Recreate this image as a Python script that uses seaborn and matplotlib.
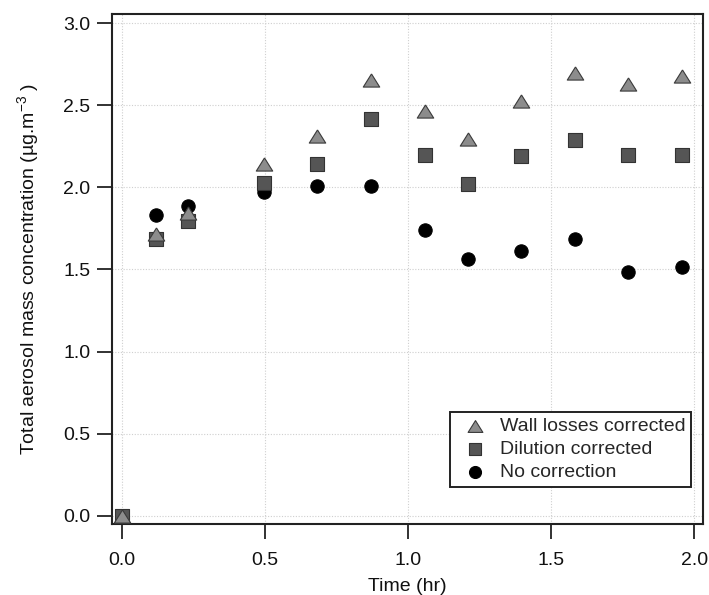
import matplotlib
matplotlib.use("Agg")
import matplotlib.pyplot as plt
from matplotlib.markers import MarkerStyle
import numpy as np
import pandas as pd
import seaborn as sns

# ---- data ----
time_hr = [0.0, 0.119, 0.229, 0.495, 0.683, 0.871, 1.058, 1.208, 1.395, 1.583, 1.769, 1.957]
wall_losses_corrected = [0.0, 1.713, 1.845, 2.143, 2.311, 2.651, 2.463, 2.295, 2.528, 2.696, 2.631, 2.676]
dilution_corrected = [0.0, 1.686, 1.794, 2.027, 2.143, 2.416, 2.199, 2.023, 2.189, 2.290, 2.199, 2.199]
no_correction = [0.0, 1.834, 1.885, 1.970, 2.011, 2.007, 1.743, 1.565, 1.615, 1.686, 1.484, 1.514]

labels = ["Wall losses corrected", "Dilution corrected", "No correction"]
x_ticks = [0.0, 0.5, 1.0, 1.5, 2.0]
y_ticks = [0.0, 0.5, 1.0, 1.5, 2.0, 2.5, 3.0]

sns.set_theme(style="white")
plt.rcParams["font.family"] = ["Liberation Sans", "DejaVu Sans"]
plt.rcParams["mathtext.fontset"] = "custom"
plt.rcParams["mathtext.rm"] = "Liberation Sans"
plt.rcParams["mathtext.it"] = "Liberation Sans:italic"

fig = plt.figure(figsize=(7.09, 5.95), dpi=100)
ax = fig.add_axes([0.158, 0.1193, 0.8336, 0.8572])

df_nc = pd.DataFrame({"t": time_hr, "v": no_correction})
df_dc = pd.DataFrame({"t": time_hr, "v": dilution_corrected})
df_wl = pd.DataFrame({"t": time_hr, "v": wall_losses_corrected})

# slightly flattened triangle (wider than tall), like the reference
tri = MarkerStyle([(0.0, 0.8), (-1.0, -0.8), (1.0, -0.8), (0.0, 0.8)])

sns.scatterplot(data=df_nc, x="t", y="v", ax=ax, marker="o", s=92,
                color="black", edgecolor="black", linewidth=0.8,
                label=labels[2], zorder=3)
sns.scatterplot(data=df_dc, x="t", y="v", ax=ax, marker="s", s=98,
                color="#555555", edgecolor="#333333", linewidth=0.8,
                label=labels[1], zorder=4)
sns.scatterplot(data=df_wl, x="t", y="v", ax=ax, marker=tri, s=140,
                color="#8c8c8c", edgecolor="#3a3a3a", linewidth=0.8,
                label=labels[0], zorder=5)

ax.set_xlim(-0.035, 2.031)
ax.set_ylim(-0.049, 3.055)
ax.set_xticks(x_ticks)
ax.set_yticks(y_ticks)
ax.set_xticklabels([f"{v:.1f}" for v in x_ticks])
ax.set_yticklabels([f"{v:.1f}" for v in y_ticks])

ax.set_axisbelow(True)
ax.grid(True, color="#cfcfcf", linestyle=(0, (1, 1.5)), linewidth=0.8)

for sp in ax.spines.values():
    sp.set_visible(True)
    sp.set_color("#222222")
    sp.set_linewidth(1.5)

ax.tick_params(axis="both", which="major", direction="out", length=10.5,
               width=1.3, color="#222222", labelsize=14, labelcolor="#111111",
               bottom=True, left=True)
ax.tick_params(axis="x", pad=10)
ax.tick_params(axis="y", pad=5)

ax.set_xlabel("Time (hr)", fontsize=14, color="#111111", labelpad=6)
ax.set_ylabel(r"Total aerosol mass concentration (µg.m$^{-3}$ )", fontsize=14,
              color="#111111", labelpad=16)

handles, lbls = ax.get_legend_handles_labels()
order = [lbls.index(l) for l in labels]
leg = ax.legend([handles[i] for i in order], [lbls[i] for i in order],
                loc="lower right", bbox_to_anchor=(0.980, 0.0725),
                borderaxespad=0, fontsize=14, frameon=True, fancybox=False,
                framealpha=1, edgecolor="#222222", borderpad=0.3,
                labelspacing=0.28, handlelength=2.0, handletextpad=0.25,
                markerscale=0.9)
leg.get_frame().set_linewidth(1.4)

fig.savefig("out.png", dpi=100)
